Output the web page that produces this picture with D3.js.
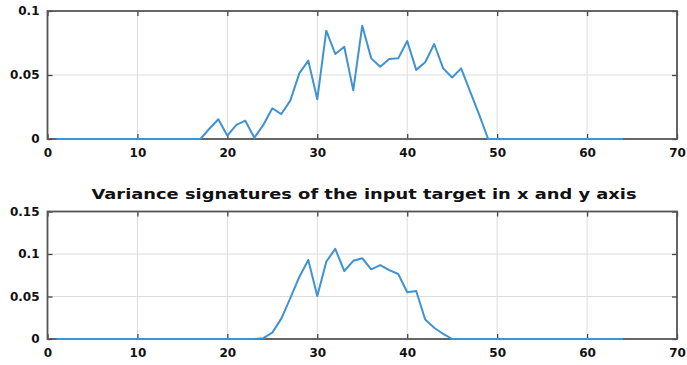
<!DOCTYPE html>
<html>
<head>
<meta charset="utf-8">
<script src="https://cdn.jsdelivr.net/npm/d3@7"></script>
<style>
  body { margin: 0; background: #fff; }
  svg text { font-family: "DejaVu Sans", Verdana, sans-serif; }
</style>
</head>
<body>
<div id="chart"></div>
<script>
const svgWidth = 687;
const svgHeight = 365;

// data (sample index 1..64)
const xIdx = d3.range(1, 65);

const topVals = [
  0, 0, 0, 0, 0, 0, 0, 0, 0, 0,
  0, 0, 0, 0, 0, 0, 0, 0.008, 0.0154, 0.0026,
  0.011, 0.0143, 0.001, 0.011, 0.024, 0.0195, 0.030, 0.0513, 0.0612, 0.031,
  0.0846, 0.0664, 0.0721, 0.038, 0.0885, 0.063, 0.0565, 0.0625, 0.063, 0.0766,
  0.054, 0.060, 0.0742, 0.0552, 0.048, 0.0552, 0.037, 0.019, 0, 0,
  0, 0, 0, 0, 0, 0, 0, 0, 0, 0,
  0, 0, 0, 0
];

const bottomVals = [
  0, 0, 0, 0, 0, 0, 0, 0, 0, 0,
  0, 0, 0, 0, 0, 0, 0, 0, 0, 0,
  0, 0, 0, 0.001, 0.0075, 0.024, 0.048, 0.073, 0.093, 0.0506,
  0.091, 0.106, 0.080, 0.092, 0.095, 0.082, 0.087, 0.081, 0.0765, 0.055,
  0.0565, 0.023, 0.0133, 0.0059, 0, 0, 0, 0, 0, 0,
  0, 0, 0, 0, 0, 0, 0, 0, 0, 0,
  0, 0, 0, 0
];

const xTicks = [0, 10, 20, 30, 40, 50, 60, 70];
const topYTicks = [0, 0.05, 0.1];
const bottomYTicks = [0, 0.05, 0.1, 0.15];
const titleText = "Variance signatures of the input target in x and y axis";

const svg = d3.select("#chart")
  .append("svg")
  .attr("width", svgWidth)
  .attr("height", svgHeight);

const xScale = d3.scaleLinear()
  .domain([0, 70])
  .range([47.5, 677]);

function fmt(v) {
  return v === 0 ? "0" : String(v);
}

function drawPanel(values, yTicks, yMax, yTop, yBottom) {
  const yScale = d3.scaleLinear()
    .domain([0, yMax])
    .range([yBottom, yTop]);

  const g = svg.append("g");
  const x0 = xScale.range()[0], x1 = xScale.range()[1];

  // grid
  g.append("g").selectAll("line")
    .data(xTicks.slice(1, -1))
    .enter().append("line")
    .attr("x1", d => xScale(d)).attr("x2", d => xScale(d))
    .attr("y1", yTop).attr("y2", yBottom)
    .attr("stroke", "#dcdcdc").attr("stroke-width", 1);

  g.append("g").selectAll("line")
    .data(yTicks.slice(1, -1))
    .enter().append("line")
    .attr("x1", x0).attr("x2", x1)
    .attr("y1", d => yScale(d)).attr("y2", d => yScale(d))
    .attr("stroke", "#dcdcdc").attr("stroke-width", 1);

  // axes, ticks inside like matlab
  const bottomAxis = d3.axisBottom(xScale).tickValues(xTicks).tickFormat(d3.format("d"))
    .tickSizeInner(-5).tickSizeOuter(0).tickPadding(9);
  const topAxis = d3.axisTop(xScale).tickValues(xTicks).tickFormat("")
    .tickSizeInner(-5).tickSizeOuter(0);
  const leftAxis = d3.axisLeft(yScale).tickValues(yTicks).tickFormat(fmt)
    .tickSizeInner(-5).tickSizeOuter(0).tickPadding(8);
  const rightAxis = d3.axisRight(yScale).tickValues(yTicks).tickFormat("")
    .tickSizeInner(-5).tickSizeOuter(0);

  const axes = [
    g.append("g").attr("transform", `translate(0,${yBottom})`).call(bottomAxis),
    g.append("g").attr("transform", `translate(0,${yTop})`).call(topAxis),
    g.append("g").attr("transform", `translate(${x0},0)`).call(leftAxis),
    g.append("g").attr("transform", `translate(${x1},0)`).call(rightAxis)
  ];
  axes.forEach(a => {
    a.select(".domain").remove();
    a.selectAll(".tick line").attr("stroke", "#444").attr("stroke-width", 1.3);
    a.selectAll("text")
      .attr("fill", "#111")
      .style("font-family", "'DejaVu Sans', sans-serif")
      .style("font-size", "12px")
      .style("font-weight", "bold");
  });

  // box
  g.append("rect")
    .attr("x", x0).attr("y", yTop)
    .attr("width", x1 - x0).attr("height", yBottom - yTop)
    .attr("fill", "none")
    .attr("stroke", "#555")
    .attr("stroke-width", 1.8);

  // series
  const line = d3.line()
    .x((d, i) => xScale(xIdx[i]))
    .y(d => yScale(d));

  g.append("path")
    .datum(values)
    .attr("d", line)
    .attr("fill", "none")
    .attr("stroke", "#3f93d3")
    .attr("stroke-width", 2)
    .attr("stroke-linejoin", "round");
}

drawPanel(topVals, topYTicks, 0.1, 11, 139);
drawPanel(bottomVals, bottomYTicks, 0.15, 211.5, 339);

svg.append("text")
  .attr("x", 364)
  .attr("y", 198.5)
  .attr("text-anchor", "middle")
  .attr("textLength", 545)
  .attr("lengthAdjust", "spacingAndGlyphs")
  .style("font-size", "14px")
  .style("font-weight", "bold")
  .attr("fill", "#111")
  .text(titleText);
</script>
</body>
</html>
